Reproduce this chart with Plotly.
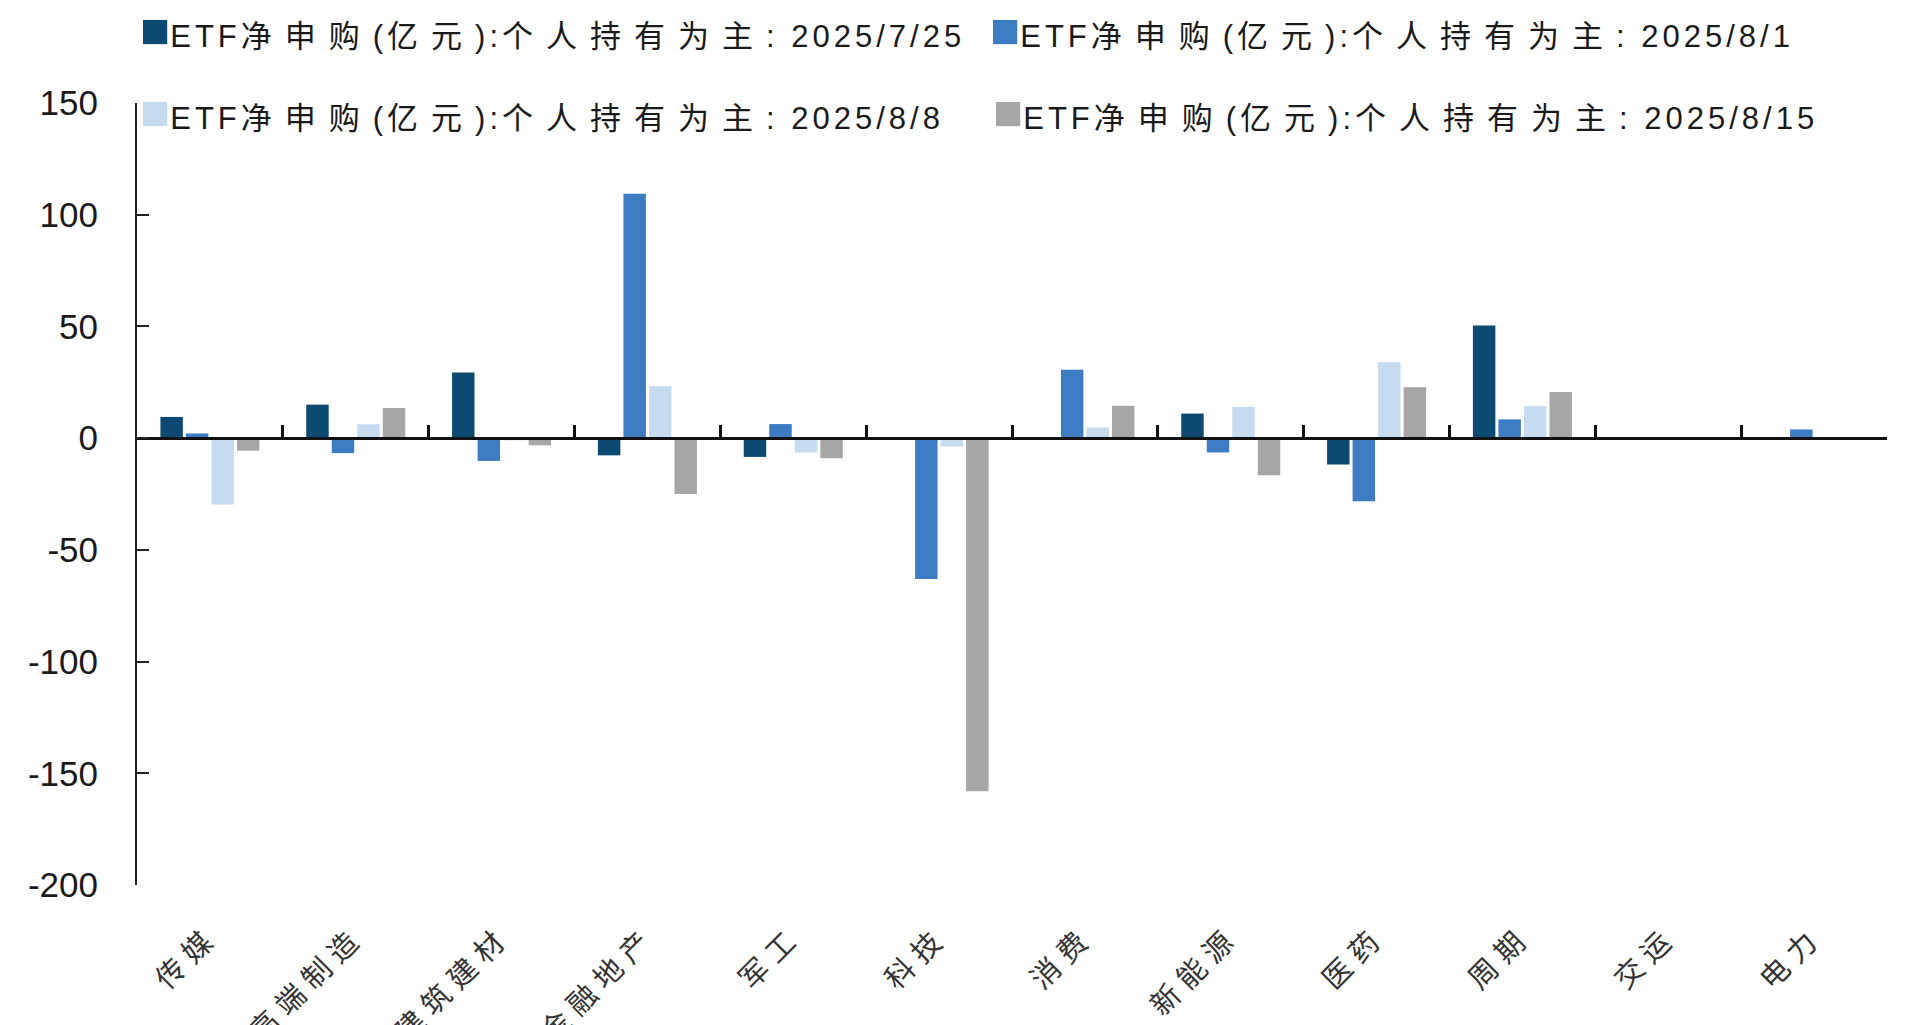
import plotly.graph_objects as go

# Sector categories along the x-axis
categories = ["传媒", "高端制造", "建筑建材", "金融地产", "军工", "科技",
              "消费", "新能源", "医药", "周期", "交运", "电力"]

# Weekly ETF net subscriptions (亿元), individual-holder dominated products
dates = ["2025/7/25", "2025/8/1", "2025/8/8", "2025/8/15"]
flow_0725 = [9.5, 15.0, 29.4, -7.7, -8.4, -0.8, -0.8, 11.0, -11.8, 50.4, -0.6, -0.6]
flow_0801 = [2.1, -6.7, -10.2, 109.4, 6.3, -63.0, 30.6, -6.4, -28.2, 8.4, -0.5, 3.9]
flow_0808 = [-29.7, 6.2, -1.0, 23.2, -6.4, -3.7, 4.8, 14.0, 34.0, 14.3, 0.2, 0.3]
flow_0815 = [-5.6, 13.5, -3.2, -25.0, -9.0, -158.0, 14.5, -16.6, 22.8, 20.6, 0.3, 0.2]

# y-axis ticks
y_ticks = [-200, -150, -100, -50, 0, 50, 100, 150]
y_tick_labels = [str(v) for v in y_ticks]

series_prefix = "ETF净申购(亿元):个人持有为主: "
series_values = [flow_0725, flow_0801, flow_0808, flow_0815]
colors = ["#0d4a72", "#3d7cc3", "#c6dbef", "#a6a6a6"]

FONT = "Liberation Sans, Arial, Noto Sans CJK SC, sans-serif"

W, H = 1915, 1025
M_L, M_R, M_T, M_B = 137, 28, 103, 140
plot_w = W - M_L - M_R
plot_h = H - M_T - M_B


def spaced(text, latin_gap=4, cjk_gap=13):
    """Wrap runs of CJK / non-CJK characters in spans with their own letter spacing."""
    out, run, run_cjk = [], "", None
    for ch in text:
        is_cjk = ord(ch) > 0x2E80
        if run and is_cjk != run_cjk:
            gap = cjk_gap if run_cjk else latin_gap
            out.append(f'<span style="letter-spacing:{gap}px">{run}</span>')
            run = ""
        run += ch
        run_cjk = is_cjk
    if run:
        gap = cjk_gap if run_cjk else latin_gap
        out.append(f'<span style="letter-spacing:{gap}px">{run}</span>')
    return "".join(out)


fig = go.Figure()
for d, vals, c in zip(dates, series_values, colors):
    fig.add_trace(go.Bar(x=categories, y=vals, name=series_prefix + d,
                         marker=dict(color=c, line=dict(width=0)),
                         showlegend=False))

# invisible helper trace so the zero-line axis carries category boundaries
fig.add_trace(go.Scatter(x=categories, y=flow_0725, xaxis="x2", mode="none",
                         hoverinfo="skip", showlegend=False))

y_min, y_max = y_ticks[0], y_ticks[-1]

# legend drawn as two rows of colored-square labels
legend_pos = [(138, 30), (988, 30), (138, 112), (991, 112)]
for (px, py), d, c in zip(legend_pos, dates, colors):
    fig.add_annotation(
        xref="paper", yref="paper",
        x=(px - M_L) / plot_w, y=(H - M_B - py) / plot_h,
        xanchor="left", yanchor="middle", showarrow=False,
        text=(f'<span style="color:{c};font-size:50px">■</span>'
              + spaced(series_prefix + d)),
        font=dict(family=FONT, size=31, color="#1a1a1a"),
    )

fig.update_layout(
    width=W, height=H,
    margin=dict(l=M_L, r=M_R, t=M_T, b=M_B, autoexpand=False),
    paper_bgcolor="white", plot_bgcolor="white",
    barmode="group", bargap=0.30, bargroupgap=0.12,
    font=dict(family=FONT, color="#1a1a1a"),
    xaxis=dict(
        type="category", categoryorder="array", categoryarray=categories,
        range=[-0.5, len(categories) - 0.5],
        tickmode="array", tickvals=categories,
        ticktext=[spaced(c, cjk_gap=8) for c in categories],
        showline=False, ticks="", showgrid=False, zeroline=False,
        tickangle=-45, ticklabelstandoff=28,
        tickfont=dict(family=FONT, size=29, color="#333333"),
    ),
    xaxis2=dict(
        type="category", categoryorder="array", categoryarray=categories,
        range=[-0.5, len(categories) - 0.5],
        overlaying="x", anchor="free",
        position=(0 - y_min) / (y_max - y_min),
        showline=True, linecolor="#111111", linewidth=2.5,
        ticks="inside", ticklen=12, tickwidth=2.5, tickcolor="#111111",
        tickson="boundaries", showticklabels=False, showgrid=False,
    ),
    yaxis=dict(
        domain=[0, 1], range=[y_min, y_max],
        tickmode="array", tickvals=y_ticks, ticktext=y_tick_labels,
        showline=True, linecolor="#222222", linewidth=2,
        ticks="inside", ticklen=12, tickwidth=2, tickcolor="#222222",
        showgrid=False, zeroline=False, ticklabelstandoff=30,
        tickfont=dict(family=FONT, size=35, color="#1a1a1a"),
    ),
)

fig.write_html("out.html")
